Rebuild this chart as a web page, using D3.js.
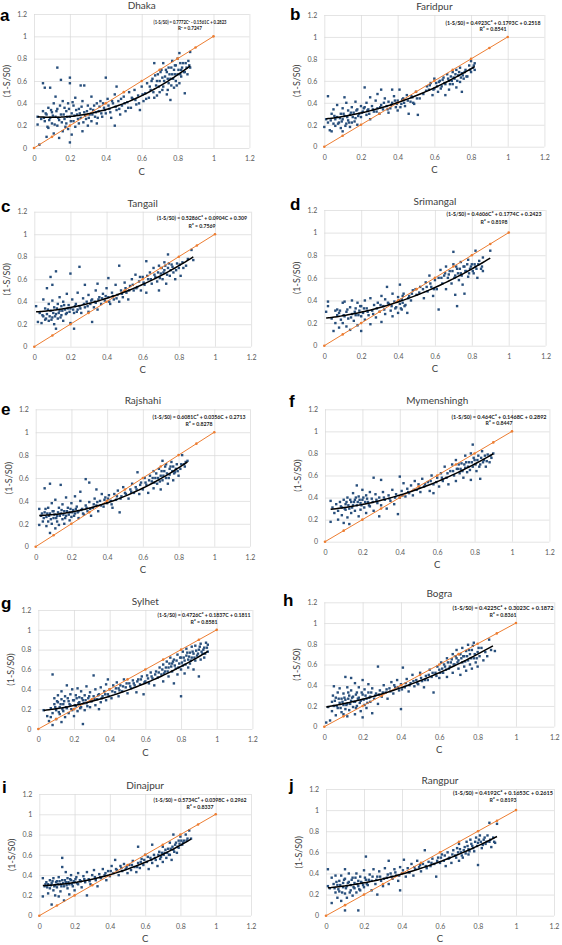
<!DOCTYPE html>
<html><head><meta charset="utf-8">
<script src="https://cdn.jsdelivr.net/npm/d3@7"></script>
<style>body{margin:0;background:#fff}svg{display:block}</style>
</head><body>
<svg id="chart" width="562" height="945"></svg>
<script>
// ---------------- DATA ----------------
const panelLetters = ["a","b","c","d","e","f","g","h","i","j"];
const panelTitles = ["Dhaka","Faridpur","Tangail","Srimangal","Rajshahi","Mymenshingh","Sylhet","Bogra","Dinajpur","Rangpur"];
const xTicks = [0,0.2,0.4,0.6,0.8,1,1.2];
const yTicks = [0,0.2,0.4,0.6,0.8,1,1.2];
const xLabel = "C";
const yLabel = "(1-S/S0)";
const oneToOne = [0,0.1,0.2,0.3,0.4,0.5,0.6,0.7,0.8,0.9,1];
// quadratic fit coefficients [a, b, c] for (1-S/S0) = aC² + bC + c (from the chart's equations)
const fitCoefs = [
 [0.7772,-0.1561,0.2823],[0.4923,0.1793,0.2518],[0.5286,0.0904,0.309],[0.4606,0.1774,0.2423],
 [0.6081,0.0356,0.2713],[0.464,0.1468,0.2892],[0.4726,0.1837,0.1811],[0.4225,0.3023,0.1872],
 [0.5734,0.0398,0.2962],[0.4192,0.1653,0.2615]];
const fitRange = [[0.02,0.87],[0.01,0.82],[0.01,0.88],[0.01,0.9],[0.02,0.85],[0.03,0.9],[0.03,0.95],[0.01,0.88],[0.02,0.86],[0.01,0.9]];
const rSquared = ["0.7247","0.8541","0.7569","0.8198","0.8278","0.8447","0.8581","0.8361","0.8337","0.8193"];

const dhakaPoints = [[0.02,0.28],[0.02,0.21],[0.03,0.03],[0.04,0.26],[0.05,0.58],[0.05,0.33],[0.06,0.54],[0.06,0.24],[0.07,0.10],[0.07,0.30],[0.08,0.36],[0.08,0.18],[0.09,0.54],[0.09,0.27],[0.10,0.22],[0.10,0.32],[0.11,0.13],[0.11,0.40],[0.12,0.28],[0.12,0.46],[0.13,0.72],[0.13,0.20],[0.13,0.35],[0.14,0.09],[0.14,0.25],[0.15,0.61],[0.15,0.30],[0.16,0.42],[0.16,0.15],[0.17,0.26],[0.17,0.36],[0.18,0.22],[0.18,0.33],[0.19,0.40],[0.19,0.17],[0.20,0.63],[0.20,0.58],[0.20,0.05],[0.20,0.28],[0.21,0.31],[0.21,0.12],[0.22,0.38],[0.22,0.24],[0.23,0.45],[0.23,0.19],[0.24,0.30],[0.25,0.35],[0.25,0.22],[0.26,0.56],[0.26,0.27],[0.27,0.42],[0.27,0.15],[0.28,0.56],[0.28,0.32],[0.29,0.26],[0.30,0.38],[0.30,0.20],[0.31,0.30],[0.32,0.46],[0.32,0.24],[0.33,0.34],[0.34,0.28],[0.35,0.40],[0.35,0.22],[0.36,0.33],[0.37,0.42],[0.38,0.28],[0.39,0.36],[0.40,0.63],[0.40,0.31],[0.41,0.44],[0.42,0.35],[0.43,0.27],[0.44,0.40],[0.45,0.20],[0.45,0.48],[0.46,0.55],[0.46,0.34],[0.47,0.42],[0.48,0.30],[0.49,0.38],[0.50,0.46],[0.51,0.33],[0.52,0.41],[0.53,0.50],[0.54,0.36],[0.55,0.44],[0.56,0.52],[0.57,0.39],[0.58,0.47],[0.59,0.34],[0.60,0.55],[0.61,0.42],[0.62,0.49],[0.63,0.58],[0.64,0.45],[0.65,0.52],[0.66,0.62],[0.67,0.76],[0.67,0.45],[0.68,0.56],[0.69,0.66],[0.70,0.50],[0.70,0.60],[0.71,0.70],[0.72,0.76],[0.72,0.55],[0.73,0.64],[0.74,0.48],[0.74,0.68],[0.75,0.58],[0.75,0.72],[0.76,0.43],[0.76,0.62],[0.77,0.66],[0.77,0.78],[0.78,0.54],[0.78,0.70],[0.79,0.60],[0.79,0.74],[0.80,0.66],[0.80,0.80],[0.81,0.85],[0.81,0.58],[0.82,0.70],[0.82,0.64],[0.83,0.76],[0.84,0.68],[0.84,0.49],[0.85,0.72],[0.86,0.78],[0.87,0.86],[0.87,0.72],
 [0.055,0.27],[0.065,0.31],[0.075,0.19],[0.085,0.25],[0.095,0.34],[0.105,0.29],[0.115,0.21],[0.125,0.33],[0.135,0.27],[0.145,0.38],[0.155,0.23],[0.165,0.30],[0.175,0.19],[0.185,0.28],[0.195,0.35],[0.205,0.24],[0.215,0.41],[0.225,0.29],[0.235,0.34],[0.245,0.26],[0.255,0.31],[0.265,0.37],[0.275,0.23],[0.285,0.29],[0.295,0.33],[0.305,0.27],[0.315,0.35],[0.325,0.30],[0.335,0.38],[0.345,0.32],[0.355,0.27],[0.365,0.37],[0.375,0.31],[0.385,0.40],[0.395,0.34],[0.415,0.38],[0.425,0.32],[0.435,0.42],[0.455,0.37],[0.475,0.35],[0.485,0.44],[0.505,0.40],[0.525,0.36],[0.545,0.45],[0.565,0.43],[0.585,0.40],[0.605,0.48],[0.625,0.44],[0.645,0.55],[0.655,0.60],[0.665,0.50],[0.675,0.65],[0.685,0.60],[0.695,0.55],[0.705,0.68],[0.715,0.63],[0.725,0.60],[0.735,0.70],[0.745,0.62],[0.755,0.66],[0.765,0.72],[0.765,0.56],[0.775,0.62],[0.785,0.74],[0.785,0.66],[0.795,0.56],[0.805,0.70],[0.815,0.76],[0.815,0.66],[0.825,0.72],[0.835,0.68],[0.845,0.76],[0.855,0.66],[0.865,0.74],[0.745,0.52],[0.715,0.52],[0.685,0.47]];
const faridpurPoints = [[0.00,0.18],[0.01,0.25],[0.02,0.46],[0.02,0.22],[0.03,0.15],[0.04,0.14],[0.04,0.30],[0.05,0.21],[0.05,0.34],[0.06,0.25],[0.06,0.19],[0.07,0.38],[0.07,0.27],[0.08,0.22],[0.09,0.30],[0.09,0.17],[0.10,0.25],[0.10,0.14],[0.10,0.35],[0.11,0.45],[0.11,0.28],[0.12,0.21],[0.12,0.40],[0.13,0.33],[0.13,0.24],[0.14,0.18],[0.14,0.29],[0.15,0.36],[0.15,0.22],[0.16,0.31],[0.17,0.41],[0.17,0.26],[0.18,0.34],[0.18,0.20],[0.19,0.30],[0.20,0.37],[0.20,0.27],[0.21,0.32],[0.22,0.54],[0.22,0.36],[0.23,0.29],[0.23,0.40],[0.24,0.34],[0.25,0.45],[0.25,0.25],[0.26,0.37],[0.27,0.32],[0.28,0.42],[0.29,0.35],[0.29,0.48],[0.30,0.30],[0.31,0.52],[0.31,0.38],[0.32,0.34],[0.33,0.44],[0.34,0.37],[0.35,0.31],[0.35,0.41],[0.36,0.35],[0.37,0.52],[0.37,0.40],[0.38,0.46],[0.39,0.36],[0.40,0.42],[0.40,0.33],[0.41,0.52],[0.42,0.39],[0.43,0.44],[0.44,0.37],[0.45,0.47],[0.46,0.30],[0.47,0.41],[0.48,0.45],[0.49,0.39],[0.50,0.50],[0.51,0.29],[0.52,0.44],[0.54,0.48],[0.56,0.55],[0.57,0.52],[0.58,0.58],[0.59,0.47],[0.60,0.62],[0.60,0.53],[0.61,0.58],[0.62,0.50],[0.63,0.60],[0.64,0.55],[0.65,0.63],[0.66,0.57],[0.66,0.47],[0.67,0.66],[0.68,0.60],[0.68,0.52],[0.69,0.64],[0.70,0.68],[0.70,0.57],[0.71,0.62],[0.72,0.54],[0.72,0.70],[0.73,0.65],[0.74,0.59],[0.74,0.72],[0.75,0.50],[0.75,0.67],[0.76,0.62],[0.77,0.70],[0.78,0.64],[0.79,0.74],[0.80,0.68],[0.80,0.78],[0.81,0.72],[0.82,0.76],[0.82,0.70],
 [0.035,0.24],[0.055,0.28],[0.075,0.21],[0.085,0.26],[0.095,0.23],[0.105,0.30],[0.115,0.19],[0.125,0.27],[0.135,0.22],[0.145,0.31],[0.155,0.27],[0.165,0.23],[0.175,0.33],[0.185,0.28],[0.205,0.31],[0.215,0.35],[0.235,0.33],[0.245,0.30],[0.265,0.34],[0.285,0.32],[0.305,0.36],[0.325,0.40],[0.345,0.34],[0.365,0.38],[0.385,0.42],[0.395,0.39],[0.415,0.36],[0.425,0.43],[0.435,0.40],[0.455,0.42],[0.475,0.46],[0.485,0.40],[0.505,0.44],[0.555,0.51],[0.575,0.56],[0.595,0.52],[0.615,0.55],[0.625,0.59],[0.635,0.53],[0.645,0.61],[0.655,0.58],[0.675,0.62],[0.685,0.57],[0.695,0.60],[0.705,0.63],[0.715,0.66],[0.725,0.60],[0.735,0.68],[0.745,0.63],[0.755,0.65],[0.765,0.68],[0.775,0.64],[0.795,0.70],[0.815,0.74]];
const tangailPoints = [[0.01,0.36],[0.02,0.22],[0.03,0.30],[0.04,0.21],[0.05,0.42],[0.05,0.27],[0.06,0.34],[0.06,0.24],[0.07,0.52],[0.07,0.29],[0.08,0.23],[0.08,0.38],[0.09,0.62],[0.09,0.32],[0.10,0.55],[0.10,0.26],[0.10,0.41],[0.11,0.20],[0.11,0.35],[0.12,0.67],[0.12,0.16],[0.12,0.29],[0.13,0.38],[0.13,0.25],[0.14,0.44],[0.14,0.32],[0.15,0.28],[0.15,0.36],[0.16,0.40],[0.16,0.23],[0.17,0.33],[0.18,0.47],[0.18,0.30],[0.19,0.37],[0.20,0.65],[0.20,0.21],[0.20,0.34],[0.21,0.42],[0.22,0.16],[0.22,0.30],[0.23,0.38],[0.24,0.48],[0.24,0.33],[0.25,0.71],[0.25,0.36],[0.26,0.30],[0.27,0.43],[0.28,0.55],[0.28,0.35],[0.29,0.40],[0.30,0.31],[0.30,0.46],[0.31,0.38],[0.32,0.22],[0.32,0.42],[0.33,0.35],[0.34,0.50],[0.34,0.39],[0.35,0.56],[0.35,0.33],[0.36,0.44],[0.37,0.38],[0.38,0.47],[0.39,0.41],[0.40,0.52],[0.41,0.61],[0.41,0.44],[0.42,0.38],[0.43,0.48],[0.44,0.42],[0.45,0.55],[0.46,0.46],[0.47,0.72],[0.47,0.40],[0.48,0.50],[0.49,0.44],[0.50,0.57],[0.51,0.48],[0.52,0.42],[0.53,0.54],[0.54,0.60],[0.55,0.50],[0.56,0.64],[0.57,0.53],[0.58,0.58],[0.59,0.50],[0.60,0.62],[0.61,0.55],[0.62,0.76],[0.62,0.48],[0.63,0.60],[0.64,0.66],[0.65,0.56],[0.66,0.70],[0.67,0.62],[0.68,0.58],[0.69,0.50],[0.69,0.72],[0.70,0.65],[0.71,0.60],[0.72,0.75],[0.72,0.68],[0.73,0.56],[0.74,0.82],[0.74,0.70],[0.75,0.63],[0.76,0.73],[0.77,0.66],[0.78,0.60],[0.79,0.74],[0.80,0.70],[0.81,0.63],[0.82,0.75],[0.84,0.72],[0.85,0.78],[0.87,0.86],[0.88,0.77],
 [0.045,0.28],[0.065,0.25],[0.075,0.33],[0.085,0.27],[0.095,0.24],[0.105,0.30],[0.115,0.27],[0.125,0.34],[0.135,0.30],[0.145,0.26],[0.155,0.32],[0.165,0.37],[0.175,0.29],[0.185,0.34],[0.195,0.31],[0.215,0.33],[0.225,0.36],[0.235,0.31],[0.255,0.34],[0.275,0.38],[0.295,0.36],[0.315,0.41],[0.335,0.40],[0.355,0.42],[0.375,0.43],[0.395,0.45],[0.415,0.40],[0.435,0.45],[0.455,0.43],[0.485,0.47],[0.505,0.52],[0.525,0.50],[0.545,0.55],[0.565,0.52],[0.585,0.62],[0.605,0.57],[0.625,0.63],[0.645,0.60],[0.665,0.64],[0.685,0.66],[0.695,0.61],[0.705,0.70],[0.715,0.66],[0.725,0.72],[0.735,0.64],[0.745,0.74],[0.755,0.68],[0.765,0.71],[0.785,0.68],[0.805,0.73],[0.825,0.70]];
const srimangalPoints = [[0.01,0.30],[0.02,0.35],[0.02,0.39],[0.04,0.24],[0.05,0.13],[0.06,0.31],[0.06,0.20],[0.07,0.27],[0.07,0.32],[0.08,0.16],[0.08,0.29],[0.09,0.23],[0.10,0.38],[0.10,0.20],[0.11,0.26],[0.11,0.39],[0.12,0.17],[0.12,0.30],[0.13,0.24],[0.14,0.34],[0.14,0.14],[0.15,0.28],[0.15,0.40],[0.16,0.22],[0.17,0.33],[0.17,0.27],[0.18,0.38],[0.18,0.18],[0.19,0.31],[0.20,0.13],[0.20,0.26],[0.20,0.35],[0.21,0.29],[0.22,0.40],[0.22,0.23],[0.23,0.33],[0.24,0.27],[0.25,0.19],[0.25,0.42],[0.26,0.31],[0.27,0.36],[0.28,0.25],[0.29,0.38],[0.30,0.30],[0.31,0.21],[0.31,0.44],[0.32,0.35],[0.33,0.28],[0.33,0.41],[0.34,0.52],[0.35,0.37],[0.36,0.31],[0.37,0.46],[0.37,0.26],[0.38,0.39],[0.39,0.34],[0.40,0.43],[0.40,0.29],[0.41,0.54],[0.41,0.37],[0.42,0.41],[0.42,0.32],[0.43,0.46],[0.44,0.36],[0.45,0.29],[0.46,0.44],[0.47,0.40],[0.48,0.49],[0.50,0.45],[0.52,0.52],[0.54,0.42],[0.55,0.56],[0.56,0.48],[0.57,0.62],[0.58,0.52],[0.59,0.44],[0.60,0.58],[0.61,0.50],[0.62,0.32],[0.62,0.60],[0.63,0.67],[0.64,0.55],[0.65,0.62],[0.66,0.50],[0.66,0.70],[0.67,0.60],[0.68,0.66],[0.69,0.55],[0.70,0.83],[0.70,0.72],[0.71,0.62],[0.71,0.45],[0.72,0.35],[0.72,0.68],[0.73,0.58],[0.74,0.74],[0.74,0.64],[0.75,0.54],[0.76,0.70],[0.76,0.46],[0.77,0.66],[0.78,0.61],[0.78,0.76],[0.79,0.68],[0.80,0.72],[0.81,0.64],[0.82,0.84],[0.82,0.70],[0.83,0.60],[0.84,0.75],[0.85,0.68],[0.86,0.78],[0.86,0.66],[0.90,0.84],
 [0.085,0.31],[0.105,0.27],[0.125,0.32],[0.145,0.25],[0.165,0.30],[0.185,0.27],[0.195,0.35],[0.215,0.33],[0.235,0.30],[0.265,0.28],[0.285,0.33],[0.305,0.36],[0.325,0.32],[0.345,0.38],[0.365,0.35],[0.385,0.33],[0.405,0.40],[0.415,0.33],[0.425,0.38],[0.425,0.44],[0.435,0.35],[0.455,0.42],[0.475,0.46],[0.495,0.50],[0.515,0.47],[0.535,0.50],[0.555,0.52],[0.575,0.55],[0.595,0.50],[0.635,0.60],[0.655,0.64],[0.675,0.63],[0.695,0.66],[0.705,0.60],[0.715,0.70],[0.725,0.64],[0.735,0.68],[0.745,0.62],[0.755,0.70],[0.765,0.66],[0.775,0.72],[0.785,0.64],[0.795,0.70],[0.805,0.66],[0.815,0.72],[0.825,0.68],[0.835,0.72],[0.855,0.70]];
const rajshahiPoints = [[0.02,0.33],[0.02,0.19],[0.03,0.27],[0.04,0.22],[0.05,0.51],[0.05,0.30],[0.06,0.18],[0.06,0.26],[0.07,0.34],[0.07,0.22],[0.08,0.55],[0.08,0.12],[0.08,0.29],[0.09,0.20],[0.09,0.38],[0.10,0.25],[0.10,0.31],[0.11,0.16],[0.11,0.41],[0.12,0.27],[0.12,0.22],[0.13,0.34],[0.13,0.19],[0.14,0.54],[0.14,0.29],[0.15,0.24],[0.15,0.37],[0.16,0.31],[0.16,0.20],[0.17,0.43],[0.17,0.27],[0.18,0.34],[0.19,0.23],[0.19,0.30],[0.20,0.38],[0.20,0.26],[0.21,0.32],[0.22,0.29],[0.22,0.44],[0.23,0.35],[0.24,0.25],[0.24,0.31],[0.25,0.40],[0.25,0.48],[0.26,0.33],[0.27,0.28],[0.28,0.59],[0.28,0.36],[0.29,0.31],[0.30,0.56],[0.30,0.39],[0.31,0.27],[0.32,0.34],[0.33,0.42],[0.34,0.50],[0.34,0.36],[0.35,0.31],[0.36,0.40],[0.37,0.46],[0.38,0.35],[0.39,0.43],[0.40,0.38],[0.41,0.45],[0.42,0.40],[0.43,0.34],[0.44,0.46],[0.45,0.41],[0.46,0.49],[0.47,0.30],[0.48,0.44],[0.49,0.52],[0.50,0.47],[0.52,0.42],[0.53,0.50],[0.54,0.55],[0.55,0.47],[0.56,0.52],[0.57,0.65],[0.58,0.46],[0.59,0.56],[0.60,0.50],[0.61,0.60],[0.62,0.54],[0.63,0.47],[0.64,0.62],[0.65,0.57],[0.66,0.66],[0.66,0.51],[0.67,0.60],[0.68,0.55],[0.69,0.68],[0.70,0.62],[0.70,0.50],[0.71,0.75],[0.71,0.58],[0.72,0.66],[0.73,0.60],[0.73,0.72],[0.74,0.55],[0.75,0.68],[0.75,0.63],[0.76,0.74],[0.77,0.58],[0.77,0.70],[0.78,0.65],[0.79,0.72],[0.80,0.62],[0.81,0.68],[0.82,0.80],[0.83,0.72],[0.84,0.74],[0.85,0.75],
 [0.035,0.29],[0.045,0.25],[0.055,0.33],[0.065,0.29],[0.075,0.27],[0.085,0.24],[0.095,0.31],[0.105,0.28],[0.115,0.25],[0.125,0.30],[0.135,0.27],[0.145,0.32],[0.155,0.28],[0.165,0.25],[0.175,0.31],[0.185,0.28],[0.195,0.33],[0.205,0.30],[0.215,0.27],[0.225,0.33],[0.235,0.30],[0.255,0.32],[0.265,0.29],[0.285,0.34],[0.305,0.33],[0.325,0.37],[0.345,0.39],[0.365,0.36],[0.385,0.41],[0.405,0.42],[0.425,0.37],[0.455,0.44],[0.475,0.42],[0.505,0.46],[0.535,0.48],[0.565,0.50],[0.585,0.54],[0.615,0.56],[0.635,0.58],[0.655,0.60],[0.665,0.56],[0.675,0.64],[0.685,0.60],[0.695,0.57],[0.705,0.66],[0.715,0.62],[0.725,0.70],[0.735,0.64],[0.745,0.60],[0.755,0.70],[0.765,0.66],[0.775,0.64],[0.785,0.68],[0.795,0.66],[0.815,0.72],[0.835,0.70]];
const mymenshinghPoints = [[0.03,0.37],[0.03,0.18],[0.04,0.31],[0.05,0.26],[0.06,0.34],[0.07,0.20],[0.07,0.28],[0.08,0.36],[0.09,0.24],[0.09,0.31],[0.10,0.38],[0.10,0.17],[0.11,0.29],[0.11,0.34],[0.12,0.22],[0.12,0.40],[0.13,0.16],[0.13,0.30],[0.14,0.36],[0.14,0.26],[0.15,0.33],[0.15,0.44],[0.16,0.28],[0.16,0.38],[0.17,0.51],[0.17,0.33],[0.18,0.23],[0.18,0.41],[0.19,0.35],[0.19,0.29],[0.20,0.47],[0.20,0.38],[0.21,0.31],[0.22,0.42],[0.22,0.26],[0.23,0.36],[0.24,0.45],[0.24,0.32],[0.25,0.39],[0.26,0.58],[0.26,0.28],[0.27,0.43],[0.28,0.35],[0.29,0.23],[0.29,0.40],[0.30,0.56],[0.30,0.33],[0.31,0.45],[0.32,0.38],[0.33,0.30],[0.34,0.42],[0.35,0.37],[0.36,0.47],[0.37,0.34],[0.38,0.43],[0.39,0.25],[0.40,0.59],[0.40,0.40],[0.41,0.46],[0.42,0.53],[0.43,0.41],[0.44,0.48],[0.45,0.44],[0.46,0.51],[0.47,0.42],[0.48,0.55],[0.49,0.47],[0.50,0.52],[0.51,0.45],[0.52,0.57],[0.53,0.50],[0.55,0.54],[0.56,0.46],[0.57,0.60],[0.58,0.44],[0.58,0.52],[0.60,0.58],[0.61,0.50],[0.62,0.62],[0.63,0.55],[0.64,0.68],[0.65,0.58],[0.66,0.52],[0.67,0.64],[0.68,0.70],[0.69,0.60],[0.70,0.55],[0.70,0.74],[0.71,0.66],[0.72,0.62],[0.73,0.71],[0.74,0.58],[0.75,0.67],[0.75,0.78],[0.76,0.63],[0.77,0.72],[0.78,0.56],[0.78,0.80],[0.79,0.88],[0.79,0.68],[0.80,0.74],[0.81,0.64],[0.82,0.78],[0.83,0.57],[0.83,0.70],[0.84,0.82],[0.85,0.74],[0.86,0.68],[0.87,0.79],[0.88,0.72],[0.89,0.76],[0.90,0.80],
 [0.085,0.32],[0.105,0.30],[0.115,0.36],[0.125,0.33],[0.135,0.38],[0.145,0.31],[0.155,0.36],[0.165,0.40],[0.175,0.36],[0.185,0.38],[0.195,0.33],[0.205,0.40],[0.215,0.36],[0.225,0.39],[0.235,0.33],[0.255,0.36],[0.275,0.38],[0.315,0.40],[0.345,0.39],[0.375,0.40],[0.415,0.42],[0.445,0.45],[0.475,0.47],[0.505,0.49],[0.535,0.52],[0.565,0.55],[0.595,0.54],[0.625,0.58],[0.655,0.62],[0.685,0.64],[0.705,0.66],[0.715,0.70],[0.725,0.66],[0.735,0.64],[0.745,0.70],[0.755,0.72],[0.765,0.68],[0.775,0.65],[0.785,0.72],[0.795,0.76],[0.805,0.70],[0.815,0.74],[0.825,0.68],[0.835,0.76],[0.845,0.72],[0.855,0.78],[0.865,0.73],[0.885,0.78]];
const sylhetPoints = [[0.03,0.19],[0.05,0.13],[0.06,0.08],[0.07,0.12],[0.07,0.21],[0.08,0.55],[0.08,0.04],[0.08,0.16],[0.09,0.25],[0.09,0.31],[0.10,0.10],[0.10,0.19],[0.11,0.27],[0.11,0.34],[0.12,0.15],[0.12,0.22],[0.13,0.07],[0.13,0.30],[0.13,0.38],[0.14,0.18],[0.14,0.25],[0.15,0.33],[0.15,0.12],[0.16,0.21],[0.16,0.44],[0.17,0.28],[0.17,0.16],[0.18,0.35],[0.18,0.24],[0.19,0.40],[0.19,0.19],[0.20,0.29],[0.20,0.13],[0.21,0.34],[0.21,0.23],[0.22,0.41],[0.22,0.18],[0.23,0.27],[0.23,0.32],[0.24,0.22],[0.24,0.38],[0.25,0.05],[0.25,0.29],[0.26,0.34],[0.26,0.19],[0.27,0.43],[0.27,0.26],[0.28,0.31],[0.29,0.22],[0.29,0.37],[0.30,0.28],[0.31,0.54],[0.31,0.33],[0.32,0.24],[0.32,0.40],[0.33,0.30],[0.34,0.35],[0.34,0.20],[0.35,0.42],[0.35,0.27],[0.36,0.33],[0.37,0.38],[0.38,0.29],[0.38,0.45],[0.39,0.50],[0.39,0.35],[0.40,0.40],[0.41,0.31],[0.42,0.44],[0.43,0.37],[0.44,0.47],[0.45,0.41],[0.45,0.33],[0.46,0.44],[0.47,0.38],[0.48,0.50],[0.49,0.42],[0.50,0.36],[0.51,0.46],[0.52,0.41],[0.53,0.49],[0.54,0.44],[0.55,0.37],[0.56,0.50],[0.57,0.45],[0.58,0.53],[0.59,0.35],[0.60,0.48],[0.61,0.54],[0.62,0.46],[0.63,0.57],[0.64,0.51],[0.65,0.44],[0.66,0.58],[0.67,0.52],[0.68,0.62],[0.69,0.55],[0.70,0.48],[0.70,0.65],[0.71,0.58],[0.72,0.68],[0.73,0.53],[0.73,0.62],[0.74,0.72],[0.75,0.58],[0.75,0.66],[0.76,0.46],[0.76,0.70],[0.77,0.61],[0.78,0.75],[0.78,0.55],[0.79,0.66],[0.80,0.33],[0.80,0.72],[0.80,0.60],[0.81,0.78],[0.81,0.64],[0.82,0.69],[0.82,0.56],[0.83,0.74],[0.83,0.81],[0.84,0.62],[0.84,0.70],[0.85,0.77],[0.85,0.66],[0.86,0.83],[0.86,0.72],[0.87,0.60],[0.87,0.76],[0.88,0.69],[0.88,0.84],[0.89,0.74],[0.90,0.53],[0.90,0.80],[0.91,0.70],[0.91,0.86],[0.92,0.76],[0.93,0.82],[0.93,0.72],[0.94,0.87],[0.95,0.78],[0.95,0.85],
 [0.095,0.22],[0.105,0.28],[0.115,0.17],[0.125,0.25],[0.135,0.20],[0.145,0.28],[0.155,0.22],[0.165,0.31],[0.175,0.25],[0.185,0.20],[0.195,0.29],[0.205,0.24],[0.215,0.31],[0.225,0.26],[0.235,0.21],[0.245,0.31],[0.255,0.26],[0.265,0.29],[0.275,0.23],[0.285,0.33],[0.295,0.28],[0.315,0.30],[0.335,0.34],[0.355,0.31],[0.375,0.35],[0.395,0.33],[0.415,0.38],[0.435,0.41],[0.455,0.39],[0.475,0.43],[0.495,0.46],[0.515,0.43],[0.535,0.46],[0.555,0.48],[0.575,0.50],[0.595,0.47],[0.615,0.51],[0.635,0.53],[0.655,0.55],[0.675,0.57],[0.695,0.60],[0.705,0.56],[0.715,0.62],[0.725,0.58],[0.735,0.66],[0.745,0.63],[0.755,0.68],[0.765,0.64],[0.775,0.69],[0.785,0.62],[0.795,0.72],[0.805,0.67],[0.815,0.72],[0.825,0.65],[0.835,0.77],[0.845,0.73],[0.855,0.69],[0.865,0.78],[0.875,0.72],[0.885,0.79],[0.895,0.76],[0.905,0.83],[0.915,0.78],[0.925,0.80],[0.935,0.76],[0.945,0.82]];
const bograPoints = [[0.01,0.04],[0.02,0.19],[0.03,0.06],[0.04,0.24],[0.04,0.15],[0.05,0.39],[0.05,0.20],[0.06,0.28],[0.06,0.11],[0.07,0.33],[0.07,0.18],[0.08,0.23],[0.08,0.37],[0.09,0.14],[0.09,0.27],[0.10,0.12],[0.10,0.21],[0.10,0.32],[0.11,0.48],[0.11,0.17],[0.11,0.26],[0.12,0.38],[0.12,0.10],[0.12,0.22],[0.13,0.30],[0.13,0.16],[0.14,0.47],[0.14,0.25],[0.14,0.35],[0.15,0.19],[0.15,0.29],[0.16,0.42],[0.16,0.12],[0.16,0.24],[0.17,0.33],[0.17,0.20],[0.18,0.28],[0.18,0.38],[0.19,0.15],[0.19,0.25],[0.20,0.45],[0.20,0.09],[0.20,0.31],[0.21,0.21],[0.21,0.36],[0.22,0.27],[0.22,0.18],[0.23,0.33],[0.23,0.41],[0.24,0.24],[0.24,0.29],[0.25,0.13],[0.25,0.37],[0.26,0.27],[0.27,0.32],[0.28,0.58],[0.28,0.22],[0.29,0.35],[0.30,0.29],[0.31,0.40],[0.32,0.33],[0.33,0.27],[0.34,0.37],[0.35,0.43],[0.36,0.32],[0.37,0.38],[0.38,0.45],[0.39,0.35],[0.40,0.17],[0.40,0.41],[0.41,0.57],[0.42,0.38],[0.43,0.46],[0.44,0.34],[0.45,0.42],[0.46,0.50],[0.47,0.39],[0.48,0.45],[0.49,0.41],[0.50,0.52],[0.51,0.44],[0.52,0.38],[0.53,0.49],[0.54,0.45],[0.55,0.55],[0.56,0.48],[0.57,0.33],[0.58,0.52],[0.59,0.58],[0.60,0.47],[0.60,0.55],[0.61,0.62],[0.62,0.52],[0.63,0.58],[0.64,0.66],[0.64,0.48],[0.65,0.56],[0.66,0.62],[0.67,0.70],[0.67,0.52],[0.68,0.60],[0.69,0.66],[0.69,0.74],[0.70,0.56],[0.70,0.64],[0.71,0.70],[0.71,0.50],[0.72,0.62],[0.72,0.76],[0.73,0.58],[0.73,0.68],[0.74,0.73],[0.74,0.54],[0.75,0.64],[0.75,0.79],[0.76,0.60],[0.76,0.70],[0.77,0.74],[0.77,0.56],[0.78,0.66],[0.78,0.81],[0.79,0.62],[0.80,0.72],[0.80,0.58],[0.81,0.68],[0.82,0.76],[0.83,0.64],[0.84,0.72],[0.85,0.68],[0.86,0.84],[0.87,0.74],[0.89,0.73],
 [0.045,0.30],[0.055,0.25],[0.065,0.20],[0.075,0.27],[0.085,0.18],[0.095,0.24],[0.105,0.28],[0.115,0.21],[0.125,0.27],[0.125,0.33],[0.135,0.22],[0.145,0.28],[0.155,0.24],[0.165,0.31],[0.165,0.18],[0.175,0.27],[0.185,0.23],[0.195,0.33],[0.205,0.26],[0.215,0.30],[0.225,0.23],[0.235,0.28],[0.245,0.33],[0.265,0.30],[0.285,0.31],[0.305,0.33],[0.325,0.36],[0.345,0.34],[0.365,0.40],[0.385,0.38],[0.405,0.36],[0.425,0.42],[0.445,0.40],[0.465,0.44],[0.485,0.42],[0.505,0.47],[0.525,0.45],[0.545,0.50],[0.565,0.52],[0.585,0.49],[0.605,0.52],[0.615,0.56],[0.625,0.60],[0.635,0.55],[0.645,0.62],[0.655,0.58],[0.665,0.65],[0.675,0.60],[0.685,0.68],[0.695,0.62],[0.705,0.70],[0.715,0.66],[0.725,0.68],[0.735,0.63],[0.745,0.68],[0.755,0.74],[0.765,0.66],[0.775,0.78],[0.785,0.70],[0.795,0.66],[0.805,0.76]];
const dinajpurPoints = [[0.02,0.37],[0.02,0.19],[0.03,0.29],[0.04,0.33],[0.05,0.22],[0.05,0.31],[0.06,0.35],[0.06,0.27],[0.07,0.11],[0.07,0.32],[0.08,0.25],[0.08,0.37],[0.09,0.30],[0.09,0.20],[0.10,0.34],[0.10,0.28],[0.11,0.19],[0.11,0.38],[0.12,0.31],[0.12,0.24],[0.13,0.57],[0.13,0.48],[0.13,0.35],[0.14,0.29],[0.14,0.15],[0.15,0.43],[0.15,0.33],[0.16,0.27],[0.16,0.37],[0.17,0.31],[0.17,0.21],[0.18,0.35],[0.18,0.40],[0.19,0.29],[0.20,0.33],[0.20,0.25],[0.21,0.38],[0.22,0.31],[0.22,0.42],[0.23,0.35],[0.24,0.28],[0.25,0.39],[0.26,0.33],[0.27,0.20],[0.27,0.43],[0.28,0.36],[0.29,0.31],[0.30,0.40],[0.31,0.45],[0.32,0.35],[0.33,0.29],[0.34,0.41],[0.35,0.37],[0.36,0.46],[0.37,0.40],[0.38,0.35],[0.39,0.44],[0.40,0.39],[0.41,0.49],[0.42,0.42],[0.43,0.55],[0.44,0.45],[0.45,0.40],[0.46,0.49],[0.47,0.44],[0.48,0.51],[0.49,0.46],[0.50,0.42],[0.51,0.50],[0.52,0.45],[0.53,0.54],[0.54,0.48],[0.55,0.43],[0.56,0.68],[0.56,0.52],[0.57,0.47],[0.58,0.56],[0.59,0.50],[0.60,0.60],[0.61,0.53],[0.62,0.46],[0.63,0.57],[0.64,0.70],[0.64,0.52],[0.65,0.60],[0.66,0.55],[0.67,0.49],[0.68,0.63],[0.69,0.58],[0.70,0.68],[0.70,0.53],[0.71,0.62],[0.72,0.57],[0.73,0.66],[0.74,0.72],[0.74,0.60],[0.75,0.55],[0.76,0.80],[0.76,0.65],[0.77,0.70],[0.78,0.62],[0.79,0.74],[0.79,0.67],[0.80,0.78],[0.81,0.70],[0.82,0.74],[0.83,0.80],[0.84,0.76],[0.85,0.84],[0.86,0.76],
 [0.035,0.31],[0.045,0.28],[0.065,0.30],[0.075,0.34],[0.085,0.29],[0.095,0.33],[0.105,0.31],[0.115,0.34],[0.125,0.29],[0.135,0.32],[0.145,0.35],[0.155,0.30],[0.165,0.33],[0.175,0.36],[0.185,0.31],[0.195,0.34],[0.205,0.36],[0.215,0.32],[0.235,0.34],[0.255,0.36],[0.285,0.34],[0.315,0.38],[0.345,0.38],[0.375,0.42],[0.405,0.44],[0.435,0.46],[0.465,0.47],[0.495,0.48],[0.525,0.50],[0.555,0.48],[0.575,0.53],[0.595,0.55],[0.615,0.58],[0.635,0.55],[0.655,0.57],[0.675,0.60],[0.685,0.56],[0.695,0.62],[0.705,0.60],[0.715,0.65],[0.725,0.62],[0.735,0.60],[0.745,0.66],[0.755,0.68],[0.765,0.63],[0.775,0.72],[0.785,0.68],[0.795,0.71],[0.805,0.74],[0.815,0.72],[0.835,0.74]];
const rangpurPoints = [[0.01,0.28],[0.01,0.44],[0.02,0.26],[0.03,0.36],[0.03,0.12],[0.04,0.30],[0.05,0.22],[0.05,0.38],[0.06,0.17],[0.06,0.29],[0.07,0.33],[0.07,0.23],[0.08,0.38],[0.08,0.14],[0.09,0.27],[0.09,0.31],[0.10,0.44],[0.10,0.05],[0.10,0.21],[0.10,0.35],[0.11,0.28],[0.11,0.17],[0.12,0.32],[0.12,0.40],[0.13,0.24],[0.13,0.29],[0.14,0.19],[0.14,0.36],[0.15,0.31],[0.15,0.26],[0.16,0.40],[0.16,0.22],[0.17,0.05],[0.17,0.33],[0.17,0.28],[0.18,0.37],[0.18,0.24],[0.19,0.31],[0.20,0.43],[0.20,0.27],[0.21,0.56],[0.21,0.34],[0.22,0.29],[0.23,0.39],[0.24,0.24],[0.24,0.33],[0.25,0.44],[0.26,0.30],[0.27,0.20],[0.27,0.37],[0.28,0.42],[0.29,0.33],[0.30,0.28],[0.31,0.45],[0.32,0.36],[0.33,0.52],[0.33,0.30],[0.34,0.40],[0.35,0.35],[0.36,0.44],[0.37,0.38],[0.38,0.33],[0.39,0.24],[0.39,0.46],[0.40,0.40],[0.41,0.53],[0.42,0.37],[0.43,0.45],[0.44,0.41],[0.45,0.49],[0.46,0.38],[0.47,0.44],[0.48,0.52],[0.49,0.46],[0.50,0.42],[0.51,0.49],[0.52,0.62],[0.53,0.45],[0.54,0.51],[0.55,0.47],[0.56,0.54],[0.57,0.49],[0.58,0.37],[0.59,0.55],[0.60,0.50],[0.61,0.58],[0.62,0.52],[0.63,0.47],[0.64,0.60],[0.65,0.55],[0.66,0.50],[0.67,0.62],[0.68,0.57],[0.69,0.64],[0.70,0.52],[0.70,0.68],[0.71,0.60],[0.72,0.55],[0.73,0.65],[0.74,0.70],[0.75,0.58],[0.75,0.63],[0.76,0.72],[0.77,0.66],[0.78,0.61],[0.79,0.74],[0.80,0.48],[0.80,0.69],[0.81,0.76],[0.82,0.64],[0.83,0.72],[0.84,0.68],[0.85,0.76],[0.86,0.88],[0.86,0.70],[0.87,0.65],[0.88,0.74],[0.89,0.69],[0.90,0.87],
 [0.045,0.26],[0.055,0.32],[0.065,0.25],[0.075,0.29],[0.085,0.22],[0.095,0.34],[0.105,0.26],[0.115,0.31],[0.125,0.22],[0.135,0.34],[0.145,0.27],[0.155,0.36],[0.165,0.30],[0.175,0.25],[0.185,0.32],[0.195,0.29],[0.205,0.36],[0.215,0.30],[0.225,0.34],[0.245,0.37],[0.265,0.34],[0.285,0.37],[0.305,0.35],[0.325,0.39],[0.345,0.37],[0.365,0.41],[0.385,0.38],[0.405,0.43],[0.435,0.41],[0.465,0.46],[0.495,0.48],[0.525,0.47],[0.555,0.50],[0.585,0.52],[0.605,0.55],[0.625,0.57],[0.645,0.54],[0.665,0.58],[0.685,0.55],[0.695,0.60],[0.705,0.63],[0.715,0.57],[0.725,0.62],[0.735,0.59],[0.745,0.66],[0.755,0.61],[0.765,0.68],[0.775,0.64],[0.785,0.70],[0.795,0.66],[0.805,0.72],[0.815,0.70],[0.825,0.67],[0.835,0.74],[0.845,0.70],[0.865,0.72],[0.885,0.70]];
const panelPoints = [dhakaPoints,faridpurPoints,tangailPoints,srimangalPoints,rajshahiPoints,mymenshinghPoints,sylhetPoints,bograPoints,dinajpurPoints,rangpurPoints];

// ---------------- LAYOUT (pixels) ----------------
const layout = [
 {x0:34,   x1:249.4, y0:148,   y1:14,    eqX:190, eqY:24,    eqW:73,  eqS:4.6, eqG:5.7, lx:0,   ly:21},
 {x0:324.3,x1:544.4, y0:146.7, y1:15,    eqX:493, eqY:24.5,  eqW:95,  eqS:5.2, eqG:6.7, lx:290, ly:20},
 {x0:34.3, x1:251.1, y0:346.7, y1:211.7, eqX:202, eqY:220,   eqW:90,  eqS:5.2, eqG:8.3, lx:1,   ly:212},
 {x0:324.3,x1:545.6, y0:345.7, y1:210,   eqX:494, eqY:216,   eqW:95,  eqS:5.2, eqG:8,   lx:290, ly:210},
 {x0:35.7, x1:250,   y0:546.7, y1:409.3, eqX:199, eqY:418.5, eqW:93,  eqS:5.2, eqG:7.3, lx:1,   ly:415},
 {x0:325,  x1:549.4, y0:541.7, y1:409.3, eqX:499, eqY:418.5, eqW:95,  eqS:5.2, eqG:6.7, lx:289, ly:407},
 {x0:38.3, x1:252.4, y0:729,   y1:610,   eqX:204, eqY:617,   eqW:93,  eqS:5.2, eqG:6.7, lx:1,   ly:609},
 {x0:324.3,x1:554.3, y0:726.7, y1:602.3, eqX:503, eqY:610,   eqW:101, eqS:5.2, eqG:7,   lx:283, ly:606},
 {x0:39.3, x1:251,   y0:915.7, y1:794,   eqX:200, eqY:802,   eqW:93,  eqS:5.2, eqG:6.7, lx:2,   ly:793},
 {x0:326,  x1:554,   y0:915.7, y1:789,   eqX:503, eqY:795,   eqW:100, eqS:5.2, eqG:7,   lx:289, ly:791}
];

const FONT = "Lato, 'Open Sans', sans-serif";
const svg = d3.select("#chart");
const fmt = d3.format("~g");
const coefFmt = v => String(Math.abs(v));

panelTitles.forEach((title, i) => {
  const L = layout[i];
  const x = d3.scaleLinear().domain([0, 1.2]).range([L.x0, L.x1]);
  const y = d3.scaleLinear().domain([0, 1.2]).range([L.y0, L.y1]);
  const g = svg.append("g");

  const xAxis = d3.axisBottom(x).tickValues(xTicks).tickFormat(fmt)
      .tickSize(-(L.y0 - L.y1)).tickPadding(8);
  const yAxis = d3.axisLeft(y).tickValues(yTicks).tickFormat(fmt)
      .tickSize(-(L.x1 - L.x0)).tickPadding(7);
  const gx = g.append("g").attr("transform", `translate(0,${L.y0})`).call(xAxis);
  const gy = g.append("g").attr("transform", `translate(${L.x0},0)`).call(yAxis);
  [gx, gy].forEach(a => {
    a.select(".domain").remove();
    a.selectAll(".tick line").attr("stroke", "#d9d9d9").attr("stroke-width", 0.7);
    a.selectAll(".tick text").attr("fill", "#595959").style("font-family", FONT).style("font-size", "7px");
  });

  g.append("text").attr("x", (L.x0 + L.x1) / 2).attr("y", L.y0 + 26.5)
    .attr("text-anchor", "middle").attr("fill", "#404040")
    .style("font-family", FONT).style("font-size", "9.5px").text(xLabel);
  g.append("text").attr("transform", `translate(${L.x0 - 27},${(L.y0 + L.y1) / 2}) rotate(-90)`)
    .attr("text-anchor", "middle").attr("dy", "0.35em").attr("fill", "#404040")
    .style("font-family", FONT).style("font-size", "9px").text(yLabel);

  g.append("text").attr("x", (L.x0 + L.x1) / 2).attr("y", L.y1 - 5)
    .attr("text-anchor", "middle").attr("fill", "#404040")
    .style("font-family", FONT).style("font-size", "10px").text(title);

  g.append("text").attr("x", L.lx).attr("y", L.ly)
    .attr("fill", "#000").style("font-family", "'Liberation Sans', Arial, sans-serif")
    .style("font-weight", "bold").style("font-size", "17px").text(panelLetters[i]);

  g.append("g").selectAll("rect").data(panelPoints[i]).join("rect")
    .attr("x", d => x(d[0]) - 1.2).attr("y", d => y(d[1]) - 1.2)
    .attr("width", 2.4).attr("height", 2.4)
    .attr("fill", "#284f7c");

  g.append("path").datum(oneToOne)
    .attr("d", d3.line().x(d => x(d)).y(d => y(d)))
    .attr("fill", "none").attr("stroke", "#ED7D31").attr("stroke-width", 1);
  g.append("g").selectAll("circle").data(oneToOne).join("circle")
    .attr("cx", d => x(d)).attr("cy", d => y(d)).attr("r", 1.3).attr("fill", "#ED7D31");

  const [a, b, c] = fitCoefs[i];
  const [lo, hi] = fitRange[i];
  const cs = d3.range(lo, hi + 1e-9, (hi - lo) / 60);
  g.append("path").datum(cs)
    .attr("d", d3.line().x(d => x(d)).y(d => y(a * d * d + b * d + c)).curve(d3.curveBasis))
    .attr("fill", "none").attr("stroke", "#000").attr("stroke-width", 1.5);

  const eq = `(1-S/S0) = ${coefFmt(a)}C² ${b < 0 ? "-" : "+"} ${coefFmt(b)}C + ${coefFmt(c)}`;
  g.append("text").attr("x", L.eqX).attr("y", L.eqY).attr("text-anchor", "middle")
    .attr("textLength", L.eqW).attr("lengthAdjust", "spacingAndGlyphs")
    .attr("fill", "#1a1a1a").style("font-family", FONT).style("font-weight", "bold")
    .style("font-size", L.eqS + "px").text(eq);
  g.append("text").attr("x", L.eqX).attr("y", L.eqY + L.eqG).attr("text-anchor", "middle")
    .attr("fill", "#1a1a1a").style("font-family", FONT).style("font-weight", "bold")
    .style("font-size", L.eqS + "px").text(`R² = ${rSquared[i]}`);
});
</script>
</body></html>
